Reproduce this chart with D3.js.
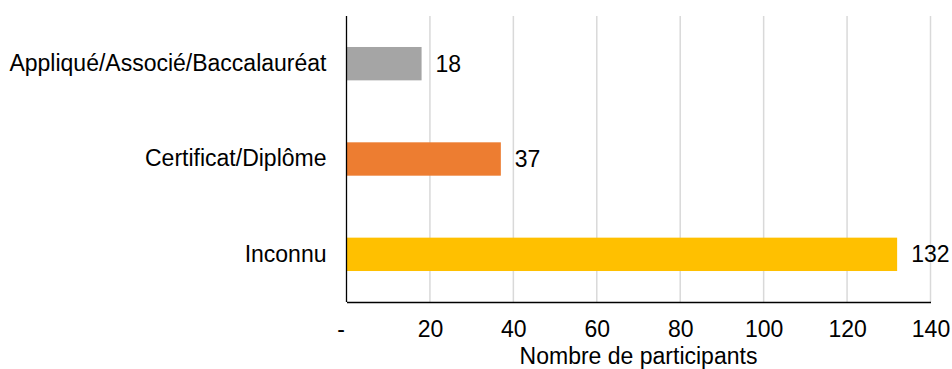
<!DOCTYPE html>
<html>
<head>
<meta charset="utf-8">
<script src="https://cdn.jsdelivr.net/npm/d3@7"></script>
<style>
  html, body { margin: 0; padding: 0; background: #fff; }
  svg { display: block; font-family: "Liberation Sans", Arial, sans-serif; }
</style>
</head>
<body>
<svg id="chart" width="952" height="369"></svg>
<script>
// Participants by credential type
const categories = ["Appliqué/Associé/Baccalauréat", "Certificat/Diplôme", "Inconnu"];
const counts = [18, 37, 132];
const barColors = ["#a5a5a5", "#ed7d31", "#ffc000"];
const tickValues = [0, 20, 40, 60, 80, 100, 120, 140];
const tickLabels = ["-", "20", "40", "60", "80", "100", "120", "140"];
const axisTitle = "Nombre de participants";

const svg = d3.select("#chart");
const margin = { left: 346.5, right: 21.5, top: 16, bottom: 67 };
const W = 952, H = 369;
const fontSize = 23;

const x = d3.scaleLinear()
  .domain([0, 140])
  .range([margin.left, W - margin.right]);

const y = d3.scaleBand()
  .domain(categories)
  .range([margin.top, H - margin.bottom])
  .paddingInner(0.65)
  .paddingOuter(0.325);

// vertical gridlines
svg.append("g")
  .selectAll("line")
  .data(tickValues.filter(d => d > 0))
  .join("line")
  .attr("x1", d => x(d)).attr("x2", d => x(d))
  .attr("y1", margin.top).attr("y2", H - margin.bottom)
  .attr("stroke", "#d9d9d9")
  .attr("stroke-width", 1.5);

// bars
svg.append("g")
  .selectAll("rect")
  .data(categories)
  .join("rect")
  .attr("x", x(0))
  .attr("y", d => y(d))
  .attr("width", (d, i) => x(counts[i]) - x(0))
  .attr("height", y.bandwidth())
  .attr("fill", (d, i) => barColors[i]);

// value labels
svg.append("g")
  .selectAll("text")
  .data(categories)
  .join("text")
  .attr("x", (d, i) => x(counts[i]) + 14)
  .attr("y", d => y(d) + y.bandwidth() / 2)
  .attr("dy", "0.35em")
  .attr("font-size", fontSize)
  .attr("fill", "#000")
  .text((d, i) => counts[i]);

// left axis (category labels)
const yAxis = d3.axisLeft(y).tickSize(0).tickPadding(20);
const gy = svg.append("g")
  .attr("transform", `translate(${x(0)},0)`)
  .call(yAxis);
gy.attr("font-size", fontSize).attr("font-family", null);
gy.select(".domain").attr("stroke", "#000").attr("stroke-width", 1.3)
  .attr("d", `M0,${margin.top}V${H - margin.bottom}`);
gy.selectAll("text").attr("fill", "#000");

// bottom axis
const xAxis = d3.axisBottom(x)
  .tickValues(tickValues)
  .tickFormat((d, i) => tickLabels[i])
  .tickSize(0)
  .tickPadding(19);
const gx = svg.append("g")
  .attr("transform", `translate(0,${H - margin.bottom})`)
  .call(xAxis);
gx.attr("font-size", fontSize).attr("font-family", null);
gx.select(".domain").attr("stroke", "#000").attr("stroke-width", 1.3);
gx.selectAll("text").attr("fill", "#000");
gx.selectAll(".tick").filter(d => d === 0).select("text").attr("dx", -6);

// axis title
svg.append("text")
  .attr("x", (x(0) + x(140)) / 2)
  .attr("y", 364)
  .attr("text-anchor", "middle")
  .attr("font-size", fontSize)
  .attr("fill", "#000")
  .text(axisTitle);
</script>
</body>
</html>
